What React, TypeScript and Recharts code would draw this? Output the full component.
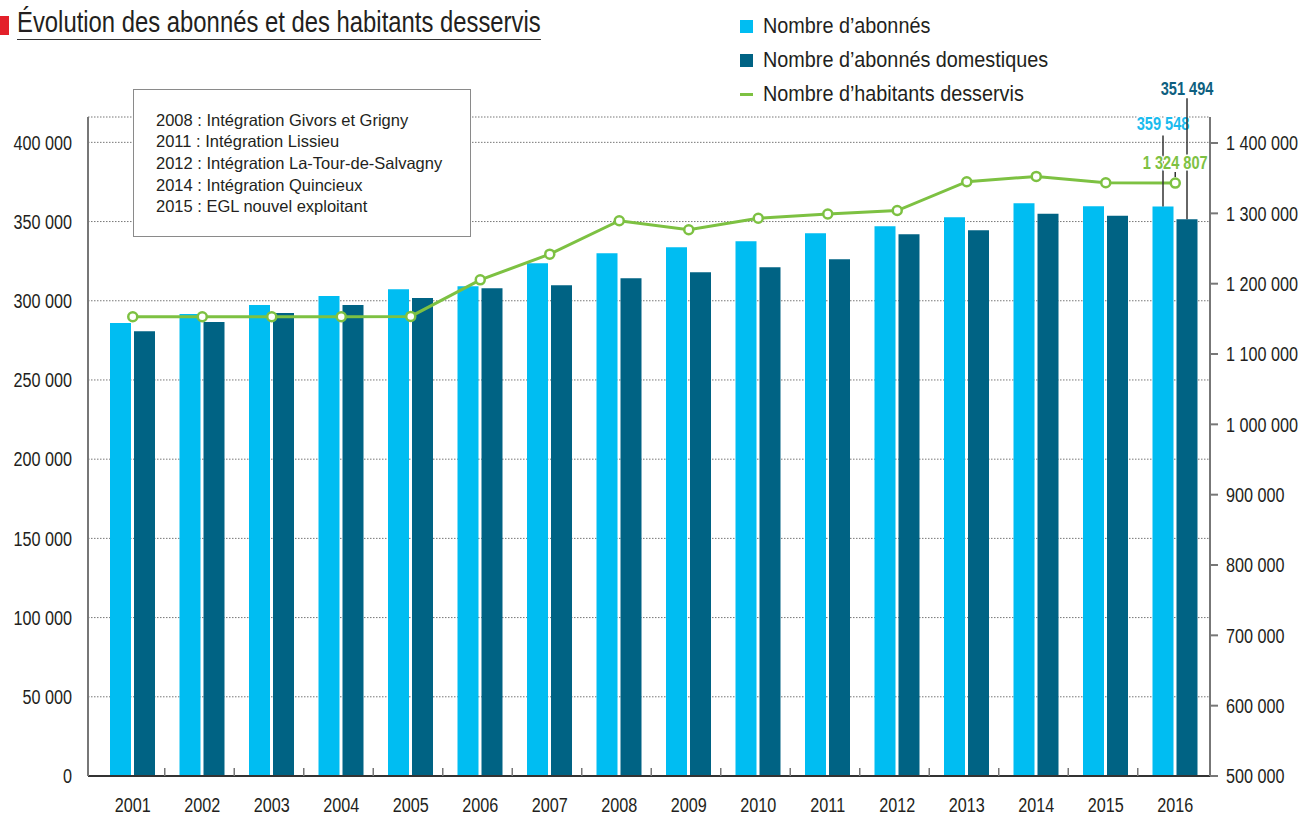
import React from "react"
import { ComposedChart, Bar, Line, XAxis, YAxis, CartesianGrid } from "recharts"

const annees = ["2001", "2002", "2003", "2004", "2005", "2006", "2007", "2008", "2009", "2010", "2011", "2012", "2013", "2014", "2015", "2016"]

const abonnes = [286000, 291700, 297400, 303000, 307300, 309100, 323700, 330000, 333800, 337500, 342600, 347000, 352700, 361500, 359600, 359548]

const abonnesDomestiques = [280800, 286600, 292300, 297400, 301800, 307900, 309800, 314200, 318000, 321100, 326200, 342000, 344500, 354900, 353600, 351494]

const habitants = [1153000, 1153000, 1153000, 1153000, 1153500, 1205500, 1242000, 1289500, 1276700, 1293000, 1299000, 1304000, 1345000, 1352500, 1343500, 1343000]

// valeur affichée en étiquette pour 2016 (le point est tracé un peu plus haut dans l'original)
const habitantsEtiquette2016 = 1324807

const ticksGauche = [0, 50000, 100000, 150000, 200000, 250000, 300000, 350000, 400000]
const ticksDroite = [500000, 600000, 700000, 800000, 900000, 1000000, 1100000, 1200000, 1300000, 1400000]

const evenements = [
    "2008 : Intégration Givors et Grigny",
    "2011 : Intégration Lissieu",
    "2012 : Intégration La-Tour-de-Salvagny",
    "2014 : Intégration Quincieux",
    "2015 : EGL nouvel exploitant",
]

const data = annees.map((annee, i) => ({
    annee,
    abonnes: abonnes[i],
    domestiques: abonnesDomestiques[i],
    habitants: habitants[i],
}))

const BLEU = "#00BDF2"
const BLEU_FONCE = "#006384"
const VERT = "#7DC142"
const TEXTE = "#231F20"
const FONT = "'Liberation Sans', Arial, sans-serif"
// pas de police condensée installée : on resserre horizontalement
const SERRE = 0.81

const fmt = (v: number) => String(Math.round(v)).replace(/\B(?=(\d{3})+(?!\d))/g, " ")

// texte SVG resserré
const Serre = ({ x, y, anchor = "middle", size = 20, bold = false, fill = TEXTE, dy = "0", halo = false, children }: any) => (
    <text
        transform={`translate(${x},${y}) scale(${SERRE},1)`}
        x={0}
        y={0}
        dy={dy}
        textAnchor={anchor}
        fontSize={size}
        fontWeight={bold ? "bold" : "normal"}
        fontFamily={FONT}
        fill={fill}
        stroke={halo ? "#fff" : "none"}
        strokeWidth={halo ? 3 : 0}
        paintOrder="stroke"
    >
        {children}
    </text>
)

const AnneeTick = (props: any) => {
    const { x, y, payload } = props
    const dernier = payload.value === annees[annees.length - 1]
    return (
        <g>
            {!dernier && <line x1={x + 32} x2={x + 32} y1={y} y2={y - 8} stroke="#777" strokeWidth={1.5} />}
            <Serre x={x} y={y + 36}>{payload.value}</Serre>
        </g>
    )
}

const GaucheTick = (props: any) => {
    const { x, y, payload } = props
    return <Serre x={x} y={y} anchor="end" dy="0.36em">{fmt(payload.value)}</Serre>
}

const DroiteTick = (props: any) => {
    const { x, y, payload } = props
    return <Serre x={x} y={y} anchor="start" dy="0.36em">{fmt(payload.value)}</Serre>
}

const EtiquetteAbonnes = (props: any) => {
    const { x, y, width, value } = props
    if (value !== abonnes[abonnes.length - 1]) return null
    const cx = x + width / 2
    return (
        <g>
            <line x1={cx} x2={cx} y1={y - 71} y2={y} stroke="#333" strokeWidth={1.5} />
            <Serre x={cx} y={y - 76} size={18} bold fill="#1BBBEE" halo>{fmt(value)}</Serre>
        </g>
    )
}

const EtiquetteDomestiques = (props: any) => {
    const { x, y, width, value } = props
    if (value !== abonnesDomestiques[abonnesDomestiques.length - 1]) return null
    const cx = x + width / 2
    return (
        <g>
            <line x1={cx} x2={cx} y1={y - 121} y2={y} stroke="#333" strokeWidth={1.5} />
            <Serre x={cx} y={y - 124} size={18} bold fill="#0E5F80">{fmt(value)}</Serre>
        </g>
    )
}

const EtiquetteHabitants = (props: any) => {
    const { x, y, value } = props
    if (value !== habitants[habitants.length - 1]) return null
    return (
        <g>
            <line x1={x} x2={x} y1={y - 11} y2={y - 6} stroke="#333" strokeWidth={1.5} />
            <Serre x={x} y={y - 14} size={18} bold fill={VERT} halo>{fmt(habitantsEtiquette2016)}</Serre>
        </g>
    )
}

const legende = [
    { label: "Nombre d’abonnés", color: BLEU, type: "carre" },
    { label: "Nombre d’abonnés domestiques", color: BLEU_FONCE, type: "carre" },
    { label: "Nombre d’habitants desservis", color: VERT, type: "ligne" },
]

export default function App() {
    return (
        <div style={{ position: "absolute", left: 0, top: 0, width: 1302, height: 817, background: "#fff", fontFamily: FONT, overflow: "hidden" }}>
            {/* titre */}
            <div style={{ position: "absolute", left: 0, top: 16, width: 9, height: 19, background: "#E3202A" }} />
            <div
                style={{
                    position: "absolute",
                    left: 17,
                    top: 4,
                    fontSize: 30,
                    lineHeight: "35px",
                    color: TEXTE,
                    borderBottom: "1.5px solid #333",
                    whiteSpace: "nowrap",
                    transform: "scaleX(0.795)",
                    transformOrigin: "0 50%",
                }}
            >
                Évolution des abonnés et des habitants desservis
            </div>

            {/* légende */}
            {legende.map((item, i) => (
                <div key={item.label} style={{ position: "absolute", left: 740, top: 12 + i * 34, height: 28, display: "flex", alignItems: "center", whiteSpace: "nowrap" }}>
                    {item.type === "carre" ? (
                        <span style={{ display: "inline-block", width: 13, height: 13, background: item.color }} />
                    ) : (
                        <span style={{ display: "inline-block", width: 13, height: 3, background: item.color }} />
                    )}
                    <span
                        style={{
                            display: "inline-block",
                            marginLeft: 10,
                            fontSize: 22,
                            color: TEXTE,
                            transform: "scaleX(0.9)",
                            transformOrigin: "0 50%",
                        }}
                    >
                        {item.label}
                    </span>
                </div>
            ))}

            <ComposedChart
                width={1302}
                height={817}
                data={data}
                margin={{ top: 117, right: 0, bottom: 0, left: 0 }}
                barGap={3}
                barSize={21}
            >
                <CartesianGrid yAxisId="left" vertical={false} stroke="#777" strokeDasharray="1.5 1.5" />
                <XAxis
                    dataKey="annee"
                    height={41}
                    padding={{ left: 10, right: 0 }}
                    interval={0}
                    axisLine={{ stroke: "#333", strokeWidth: 2 }}
                    tickLine={false}
                    tickSize={0}
                    tickMargin={0}
                    tick={<AnneeTick />}
                />
                <YAxis
                    yAxisId="left"
                    width={88}
                    domain={[0, 416000]}
                    ticks={ticksGauche}
                    interval={0}
                    axisLine={{ stroke: "#777", strokeWidth: 2 }}
                    tickLine={false}
                    tickSize={0}
                    tickMargin={16}
                    tick={<GaucheTick />}
                />
                <YAxis
                    yAxisId="right"
                    orientation="right"
                    width={92}
                    domain={[500000, 1437000]}
                    ticks={ticksDroite}
                    interval={0}
                    axisLine={{ stroke: "#777", strokeWidth: 2 }}
                    tickLine={{ stroke: "#777", strokeWidth: 2 }}
                    tickSize={8}
                    tickMargin={8}
                    tick={<DroiteTick />}
                />
                <Bar yAxisId="left" dataKey="abonnes" fill={BLEU} isAnimationActive={false} label={EtiquetteAbonnes} />
                <Bar yAxisId="left" dataKey="domestiques" fill={BLEU_FONCE} isAnimationActive={false} label={EtiquetteDomestiques} />
                <Line
                    yAxisId="right"
                    dataKey="habitants"
                    stroke={VERT}
                    strokeWidth={3}
                    dot={{ r: 4.5, fill: "#fff", stroke: VERT, strokeWidth: 2.5 }}
                    activeDot={false}
                    isAnimationActive={false}
                    label={EtiquetteHabitants}
                />
            </ComposedChart>

            {/* encadré des évènements */}
            <div
                style={{
                    position: "absolute",
                    left: 133,
                    top: 89,
                    width: 338,
                    height: 148,
                    boxSizing: "border-box",
                    border: "1.5px solid #8a8a8a",
                    background: "#fff",
                    padding: "19.5px 0 0 22px",
                    fontSize: 16.5,
                    lineHeight: "21.7px",
                    color: TEXTE,
                }}
            >
                {evenements.map((e) => (
                    <div key={e} style={{ whiteSpace: "nowrap" }}>{e}</div>
                ))}
            </div>
        </div>
    )
}
